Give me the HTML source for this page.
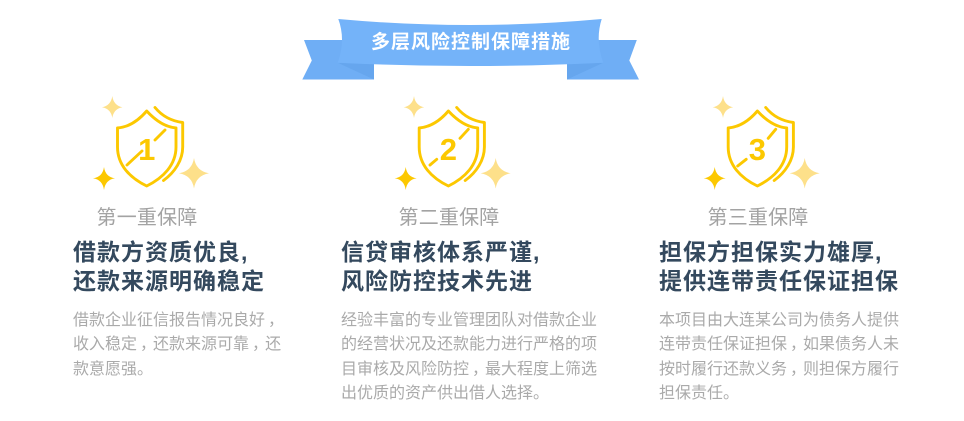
<!DOCTYPE html>
<html lang="zh">
<head>
<meta charset="utf-8">
<title>多层风险控制保障措施</title>
<style>
html,body{margin:0;padding:0;background:#fff;}
#page{position:relative;width:964px;height:421px;overflow:hidden;background:#fff;font-family:"Liberation Sans","Noto Sans CJK SC",sans-serif;}
#art{position:absolute;left:0;top:0;}
.t{position:absolute;white-space:nowrap;margin:0;font-weight:normal;}
.banner-title{left:371px;top:31px;font-size:19px;line-height:24px;letter-spacing:1px;color:#fff;font-weight:bold;}
.sub{font-size:20px;line-height:28px;letter-spacing:.2px;color:#a3a3a3;top:204px;}
.head{font-size:23px;line-height:29px;letter-spacing:1px;color:#34495e;font-weight:bold;top:238px;}
.body{font-size:16px;line-height:24.4px;color:#aaa;top:309px;}
.body i{font-style:normal;position:relative;left:3px;}
.shield{fill:none;stroke:#fcc800;stroke-width:2.9;stroke-linecap:round;stroke-linejoin:round;}
.num{font-family:"Liberation Sans",sans-serif;font-weight:bold;font-size:31px;fill:#fcc800;text-anchor:middle;}
</style>
</head>
<body>
<div id="page">
<svg id="art" width="964" height="421" viewBox="0 0 964 421">
  <defs>
    <symbol id="shield-base" overflow="visible" viewBox="0 0 964 421" width="964" height="421">
      <path d="M112.3 96 Q113.6 105.5 122.5 107.3 Q113.6 109 112.3 118 Q111 109 102 107.3 Q111 105.5 112.3 96Z" fill="#fde08a"/>
      <path d="M104 167 Q105.4 177 115 178.3 Q105.4 179.8 104 190 Q102.6 179.8 93 178.3 Q102.6 177 104 167Z" fill="#fcc800"/>
      <path d="M194 158 Q196 171 209 173.3 Q196 175.6 194 188.5 Q192 175.6 179 173.3 Q192 171 194 158Z" fill="#fde08a"/>
      <path class="shield" d="M146.7 111 C139 120 129 127 117.5 128 L117.5 147 C117.5 165 130 178 146.7 186 C163 178 176 165 176 147 L176 128 C165 127 155 120 146.7 111Z"/>
      <path class="shield" d="M155 107.5 C162 116 171 121 182.7 122.5 L182.7 147 C182.7 160 175 172 163.5 180.5"/>
    </symbol>
  </defs>

  <g>
    <path d="M304 40 L345 40 L374 64 L374 79.5 L302.3 79.5 L311.8 60.5Z" fill="#6faef5"/>
    <path d="M636.8 40 L596 40 L567 64 L567 79.5 L639 79.5 L629.3 60.5Z" fill="#6faef5"/>
    <path d="M337.7 62.7 L374 64 L374 79.5Z" fill="#66a6ee"/>
    <path d="M603.3 62.7 L567 64 L567 79.5Z" fill="#66a6ee"/>
    <path d="M338.3 19 Q404 25 470 25 Q536 25 601.7 19 Q595 40 603.3 62.7 Q536 66 470 66 Q404 66 337.7 62.7 Q346 40 338.3 19Z" fill="#74b3f9"/>
  </g>

  <g>
    <use href="#shield-base"/>
    <path class="shield" d="M127 165 L142 151 M155 140 L165 130"/>
    <text class="num" x="146.7" y="160">1</text>
  </g>
  <g transform="translate(301.7 0)">
    <use href="#shield-base"/>
    <path class="shield" d="M128.3 165 L135 159.3 M158.3 138.3 L166.6 129.3"/>
    <text class="num" x="146.7" y="160">2</text>
  </g>
  <g transform="translate(610.7 0)">
    <use href="#shield-base"/>
    <path class="shield" d="M127 166 L135.5 159.3 M157.5 138.3 L165 129.3"/>
    <text class="num" x="146.7" y="160">3</text>
  </g>
</svg>

<h1 class="t banner-title">多层风险控制保障措施</h1>

<div class="t sub" style="left:96.5px">第一重保障</div>
<h2 class="t head" style="left:73px">借款方资质优良,<br>还款来源明确稳定</h2>
<p class="t body" style="left:73px">借款企业征信报告情况良好<i>，</i><br>收入稳定<i>，</i>还款来源可靠<i>，</i>还<br>款意愿强。</p>

<div class="t sub" style="left:398.5px">第二重保障</div>
<h2 class="t head" style="left:341px">信贷审核体系严谨,<br>风险防控技术先进</h2>
<p class="t body" style="left:341px">经验丰富的专业管理团队对借款企业<br>的经营状况及还款能力进行严格的项<br>目审核及风险防控<i>，</i>最大程度上筛选<br>出优质的资产供出借人选择。</p>

<div class="t sub" style="left:707.5px">第三重保障</div>
<h2 class="t head" style="left:659px">担保方担保实力雄厚,<br>提供连带责任保证担保</h2>
<p class="t body" style="left:659px">本项目由大连某公司为债务人提供<br>连带责任保证担保<i>，</i>如果债务人未<br>按时履行还款义务<i>，</i>则担保方履行<br>担保责任。</p>
</div>
</body>
</html>
